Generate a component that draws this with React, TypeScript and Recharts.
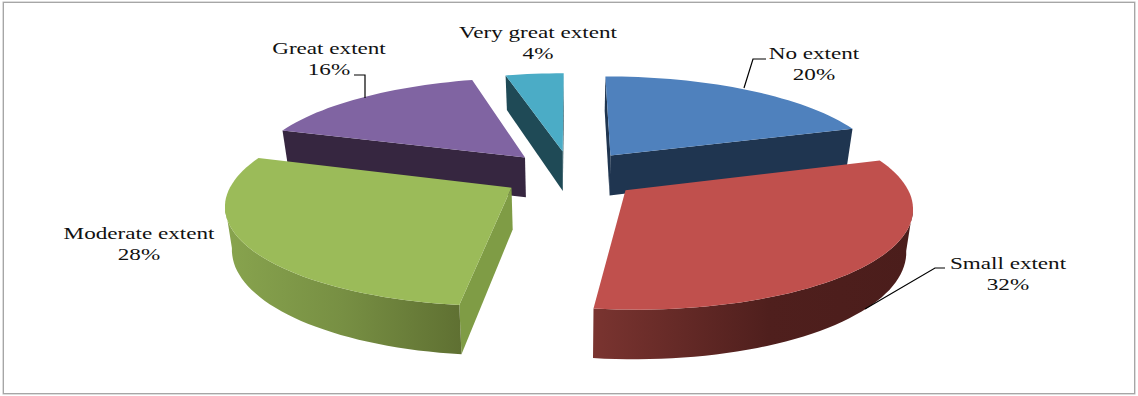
import { Pie, PieChart } from "recharts";

// listed clockwise from the Great extent slice so the slices paint back to front
const categories = ["Great extent", "Very great extent", "No extent", "Small extent", "Moderate extent"];
const shares = [16, 4, 20, 32, 28];

const tableData = categories.map((name, i) => ({ name, value: shares[i] }));

const TOP_COLORS: Record<string, string> = {
  "Great extent": "#8064A2",
  "Very great extent": "#4BACC6",
  "No extent": "#4F81BD",
  "Small extent": "#C0504D",
  "Moderate extent": "#9BBB59",
};
const WALL_COLORS: Record<string, string> = {
  "Great extent": "#362640",
  "Very great extent": "#1F4A56",
  "No extent": "#1F3550",
  "Small extent": "#4D1F1D",
  "Moderate extent": "#7F9C45",
};
// rim shading, left to right
const RIM_STOPS: Record<string, [number, string][]> = {
  "Small extent": [[0, "#7A3430"], [0.55, "#4F1F1D"], [1, "#4B1D1B"]],
  "Moderate extent": [[0, "#88A44E"], [0.5, "#778F43"], [1, "#5F7032"]],
};

const LABEL_POS: Record<string, { x: number; y: number }> = {
  "Great extent": { x: 329, y: 54 },
  "Very great extent": { x: 538, y: 38 },
  "No extent": { x: 814, y: 59 },
  "Small extent": { x: 1008, y: 269 },
  "Moderate extent": { x: 139, y: 239 },
};
const LEADERS: Record<string, string> = {
  "Great extent": "354,75 365,75 365,98",
  "No extent": "766,59 753,59 744,88",
  "Small extent": "945,268 935,268 865,309",
};

const ASPECT = 0.349; // vertical squash of the disc
const PERSPECTIVE = 0.15;
const EXPLODE = 0.25;
const DEPTH = 41;
const TEXT_STRETCH = 1.36; // the labels are set wide
const RAD = Math.PI / 180;

type Pt = { x: number; y: number };

function Slice3D(props: any) {
  const { cx, cy, outerRadius: r, startAngle, endAngle, name } = props;
  // recharts angles are counter-clockwise from 3 o'clock, disc angles run clockwise from 12
  const from = 90 - Math.max(startAngle, endAngle);
  const to = 90 - Math.min(startAngle, endAngle);
  const mid = ((from + to) / 2) * RAD;
  const ox = EXPLODE * Math.sin(mid);
  const oy = EXPLODE * Math.cos(mid);

  const project = (u: number, v: number, d: number): Pt => {
    const s = 1 / (1 + PERSPECTIVE * v);
    return {
      x: cx + r * u * s * (1 - 0.02 * d),
      y: cy - r * ASPECT * v * s + DEPTH * s * d,
    };
  };

  const rim: [number, number][] = [];
  const steps = Math.max(2, Math.ceil((to - from) / 2));
  for (let i = 0; i <= steps; i++) {
    const a = (from + ((to - from) * i) / steps) * RAD;
    rim.push([ox + Math.sin(a), oy + Math.cos(a)]);
  }
  const apex: [number, number] = [ox, oy];

  const toPath = (pts: Pt[]) =>
    pts.map((p, i) => `${i ? "L" : "M"}${p.x.toFixed(1)} ${p.y.toFixed(1)}`).join("") + "Z";
  const wall = (run: [number, number][]) => {
    const top = run.map(([u, v]) => project(u, v, 0));
    const bottom = run.map(([u, v]) => project(u, v, 1)).reverse();
    return toPath([...top, ...bottom]);
  };
  // a wall faces the viewer when its edge runs leftwards on screen
  const facing = (a: [number, number], b: [number, number]) => project(b[0], b[1], 0).x < project(a[0], a[1], 0).x;

  const runs: [number, number][][] = [];
  let run: [number, number][] = [];
  for (let i = 0; i < rim.length - 1; i++) {
    if (facing(rim[i], rim[i + 1])) {
      if (!run.length) run.push(rim[i]);
      run.push(rim[i + 1]);
    } else if (run.length) {
      runs.push(run);
      run = [];
    }
  }
  if (run.length) runs.push(run);

  const gradId = `rim-${String(name).replace(/\s/g, "-")}`;
  const stops = RIM_STOPS[name];
  const first = rim[0];
  const last = rim[rim.length - 1];

  return (
    <g>
      {stops && (
        <defs>
          <linearGradient id={gradId} x1="0" y1="0" x2="1" y2="0">
            {stops.map(([o, c]) => (
              <stop key={o} offset={o} stopColor={c} />
            ))}
          </linearGradient>
        </defs>
      )}
      {facing(apex, first) && <path d={wall([apex, first])} fill={WALL_COLORS[name]} />}
      {facing(last, apex) && <path d={wall([last, apex])} fill={WALL_COLORS[name]} />}
      {runs.map((seg, i) => (
        <path key={i} d={wall(seg)} fill={stops ? `url(#${gradId})` : WALL_COLORS[name]} />
      ))}
      <path d={toPath([project(apex[0], apex[1], 0), ...rim.map(([u, v]) => project(u, v, 0))])} fill={TOP_COLORS[name]} />
    </g>
  );
}

function SliceLabel(props: any) {
  const { name, value } = props;
  const pos = LABEL_POS[name];
  return (
    <g>
      {LEADERS[name] && <polyline points={LEADERS[name]} fill="none" stroke="#000" strokeWidth={1.2} />}
      <text
        transform={`translate(${pos.x} ${pos.y}) scale(${TEXT_STRETCH} 1)`}
        textAnchor="middle"
        fontFamily="Liberation Serif"
        fontSize={17}
        fill="#111"
      >
        <tspan x={0}>{name}</tspan>
        <tspan x={0} dy={21.5}>{`${value}%`}</tspan>
      </text>
    </g>
  );
}

export default function App() {
  return (
    <div style={{ position: "absolute", left: 0, top: 0, width: 1138, height: 396, background: "#fff" }}>
      <div
        style={{
          position: "absolute",
          left: 3,
          top: 2,
          width: 1130,
          height: 390,
          border: "1px solid #a6a6a6",
          boxShadow: "0 0 0 0.5px #bbb",
        }}
      />
      <PieChart width={1138} height={396} style={{ position: "absolute", left: 0, top: 0 }}>
        <Pie
          data={tableData}
          dataKey="value"
          nameKey="name"
          cx={566}
          cy={169.5}
          outerRadius={276}
          startAngle={-198}
          endAngle={-558}
          stroke="none"
          shape={Slice3D}
          label={SliceLabel}
          labelLine={false}
          isAnimationActive={false}
        />
      </PieChart>
    </div>
  );
}
